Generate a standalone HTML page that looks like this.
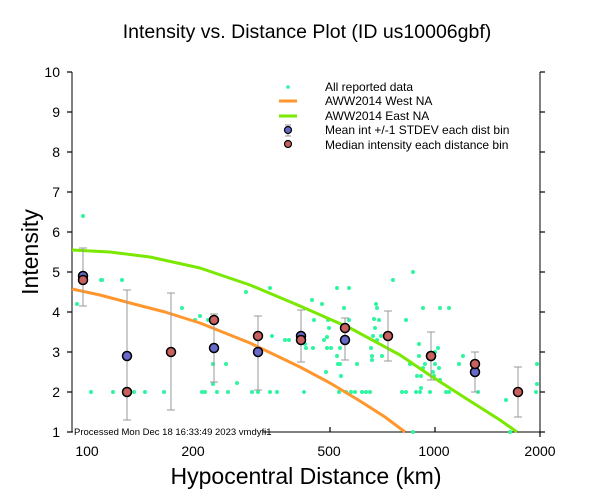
<!DOCTYPE html>
<html><head><meta charset="utf-8"><style>
body{margin:0;background:#fff}
svg{display:block;font-family:"Liberation Sans",sans-serif}
</style></head><body>
<svg width="612" height="504" viewBox="0 0 612 504" xmlns="http://www.w3.org/2000/svg">
<rect width="612" height="504" fill="#fff"/>
<text x="307" y="38" font-size="19.5" text-anchor="middle">Intensity vs. Distance Plot (ID us10006gbf)</text>
<text x="306" y="484" font-size="23" text-anchor="middle">Hypocentral Distance (km)</text>
<text transform="translate(38,252) rotate(-90)" font-size="23" text-anchor="middle">Intensity</text>
<g stroke="#000" stroke-width="1" fill="none">
<line x1="72" y1="72" x2="72" y2="432"/>
<line x1="540" y1="72" x2="540" y2="432"/>
<line x1="72" y1="432" x2="540" y2="432"/>
</g>
<g stroke="#000" stroke-width="1.2">
<line x1="72" y1="72" x2="67" y2="72"/><line x1="72" y1="112" x2="67" y2="112"/><line x1="72" y1="152" x2="67" y2="152"/><line x1="72" y1="192" x2="67" y2="192"/><line x1="72" y1="232" x2="67" y2="232"/><line x1="72" y1="272" x2="67" y2="272"/><line x1="72" y1="312" x2="67" y2="312"/><line x1="72" y1="352" x2="67" y2="352"/><line x1="72" y1="392" x2="67" y2="392"/><line x1="72" y1="432" x2="67" y2="432"/>
<line x1="540" y1="72" x2="545" y2="72"/><line x1="540" y1="112" x2="545" y2="112"/><line x1="540" y1="152" x2="545" y2="152"/><line x1="540" y1="192" x2="545" y2="192"/><line x1="540" y1="232" x2="545" y2="232"/><line x1="540" y1="272" x2="545" y2="272"/><line x1="540" y1="312" x2="545" y2="312"/><line x1="540" y1="352" x2="545" y2="352"/><line x1="540" y1="392" x2="545" y2="392"/><line x1="540" y1="432" x2="545" y2="432"/>
<line x1="330" y1="432" x2="330" y2="427"/><line x1="435" y1="432" x2="435" y2="427"/><line x1="540" y1="432" x2="540" y2="437"/>
</g>
<g font-size="14" text-anchor="end">
<text x="60" y="77">10</text><text x="60" y="117">9</text><text x="60" y="157">8</text><text x="60" y="197">7</text><text x="60" y="237">6</text><text x="60" y="277">5</text><text x="60" y="317">4</text><text x="60" y="357">3</text><text x="60" y="397">2</text><text x="60" y="437">1</text>
</g>
<g font-size="14" text-anchor="middle">
<text x="87" y="456">100</text><text x="193" y="456">200</text><text x="329" y="456">500</text><text x="434" y="456">1000</text><text x="540" y="456">2000</text>
</g>
<rect x="73" y="425" width="190" height="12" fill="#fff"/>
<text x="74" y="435" font-size="9.5">Processed Mon Dec 18 16:33:49 2023 vmdyfi1</text>
<g fill="#2ef5a0">
<circle cx="83" cy="216" r="2"/><circle cx="77" cy="304" r="2"/><circle cx="101" cy="280" r="2"/><circle cx="102" cy="280" r="2"/><circle cx="122" cy="280" r="2"/>
<circle cx="113" cy="392" r="2"/><circle cx="134" cy="392" r="2"/><circle cx="164" cy="392" r="2"/><circle cx="202" cy="392" r="2"/><circle cx="205" cy="392" r="2"/>
<circle cx="182" cy="308" r="2"/><circle cx="195" cy="320" r="2"/><circle cx="200" cy="316" r="2"/><circle cx="208" cy="320" r="2"/><circle cx="213" cy="364" r="2"/><circle cx="226" cy="364" r="2"/><circle cx="213" cy="384" r="2"/><circle cx="237" cy="383" r="2"/><circle cx="246" cy="292" r="2"/><circle cx="270" cy="288" r="2"/><circle cx="272" cy="336" r="2"/><circle cx="285" cy="340" r="2"/><circle cx="289" cy="340" r="2"/><circle cx="305" cy="344" r="2"/>
<circle cx="252" cy="392" r="2"/><circle cx="258" cy="392" r="2"/><circle cx="270" cy="392" r="2"/><circle cx="277" cy="392" r="2"/><circle cx="304" cy="392" r="2"/>
<circle cx="312" cy="300" r="2"/><circle cx="322" cy="304" r="2"/><circle cx="314" cy="320" r="2"/><circle cx="328" cy="320" r="2"/><circle cx="324" cy="340" r="2"/><circle cx="327" cy="337" r="2"/><circle cx="329" cy="328" r="2"/><circle cx="306" cy="348" r="2"/><circle cx="313" cy="348" r="2"/><circle cx="327" cy="348" r="2"/><circle cx="331" cy="348" r="2"/><circle cx="340" cy="348" r="2"/><circle cx="337" cy="356" r="2"/><circle cx="340" cy="364" r="2"/><circle cx="337" cy="288" r="2"/><circle cx="349" cy="288" r="2"/><circle cx="344" cy="308" r="2"/><circle cx="349" cy="320" r="2"/><circle cx="326" cy="372" r="2"/><circle cx="338" cy="364" r="2"/><circle cx="341" cy="376" r="2"/><circle cx="357" cy="364" r="2"/><circle cx="346" cy="392" r="2"/><circle cx="339" cy="392" r="2"/><circle cx="351" cy="392" r="2"/><circle cx="355" cy="392" r="2"/><circle cx="362" cy="392" r="2"/><circle cx="366" cy="392" r="2"/><circle cx="370" cy="392" r="2"/>
<circle cx="371" cy="348" r="2"/><circle cx="372" cy="356" r="2"/><circle cx="377" cy="340" r="2"/><circle cx="379" cy="320" r="2"/><circle cx="375" cy="328" r="2"/><circle cx="373" cy="336" r="2"/><circle cx="376" cy="304" r="2"/><circle cx="377" cy="308" r="2"/><circle cx="374" cy="319" r="2"/><circle cx="372" cy="360" r="2"/><circle cx="382" cy="356" r="2"/><circle cx="381" cy="336" r="2"/><circle cx="393" cy="280" r="2"/><circle cx="406" cy="320" r="2"/><circle cx="413" cy="272" r="2"/><circle cx="410" cy="364" r="2"/><circle cx="417" cy="376" r="2"/><circle cx="419" cy="344" r="2"/><circle cx="419" cy="356" r="2"/><circle cx="421" cy="376" r="2"/><circle cx="423" cy="308" r="2"/><circle cx="421" cy="388" r="2"/>
<circle cx="402" cy="392" r="2"/><circle cx="406" cy="392" r="2"/><circle cx="416" cy="392" r="2"/><circle cx="420" cy="392" r="2"/><circle cx="430" cy="392" r="2"/><circle cx="446" cy="392" r="2"/><circle cx="449" cy="392" r="2"/><circle cx="478" cy="392" r="2"/><circle cx="536" cy="392" r="2"/><circle cx="537" cy="384" r="2"/><circle cx="537" cy="364" r="2"/>
<circle cx="423" cy="368" r="2"/><circle cx="425" cy="364" r="2"/><circle cx="433" cy="372" r="2"/><circle cx="435" cy="352" r="2"/><circle cx="435" cy="364" r="2"/><circle cx="434" cy="376" r="2"/><circle cx="438" cy="348" r="2"/><circle cx="439" cy="368" r="2"/><circle cx="440" cy="380" r="2"/><circle cx="440" cy="308" r="2"/><circle cx="449" cy="308" r="2"/><circle cx="459" cy="364" r="2"/><circle cx="463" cy="356" r="2"/><circle cx="506" cy="400" r="2"/>
<circle cx="91" cy="392" r="2"/><circle cx="145" cy="392" r="2"/><circle cx="217" cy="392" r="2"/><circle cx="228" cy="392" r="2"/><circle cx="413" cy="432" r="2"/><circle cx="510" cy="432" r="2"/>
</g>
<polyline points="72,250 110,252 150,257 200,268 250,285 300,306 350,328 400,355 431,376 470,401 500,420 517,432" fill="none" stroke="#7ae800" stroke-width="3" stroke-linejoin="round"/>
<polyline points="72,289 100,295 130,303 165,312 200,323 250,343 300,367 330,383 360,401 385,417 405,432" fill="none" stroke="#ff962e" stroke-width="3" stroke-linejoin="round"/>
<g stroke="#999" stroke-width="1" fill="none">
<path d="M83,248V306M79,248h8M79,306h8"/>
<path d="M127,290V420M123,290h8M123,420h8"/>
<path d="M171,293V410M167,293h8M167,410h8"/>
<path d="M214,314V382M210,314h8M210,382h8"/>
<path d="M258,316V390M254,316h8M254,390h8"/>
<path d="M301,310V362M297,310h8M297,362h8"/>
<path d="M345,318V360M341,318h8M341,360h8"/>
<path d="M388,311V361M384,311h8M384,361h8"/>
<path d="M431,332V380M427,332h8M427,380h8"/>
<path d="M475,352V392M471,352h8M471,392h8"/>
<path d="M518,367V417M514,367h8M514,417h8"/>
</g>
<g fill="#6868c8" stroke="#000" stroke-width="1.5">
<circle cx="83" cy="276" r="4.5"/><circle cx="127" cy="356" r="4.5"/><circle cx="214" cy="348" r="4.5"/><circle cx="258" cy="352" r="4.5"/><circle cx="301" cy="336" r="4.5"/><circle cx="345" cy="340" r="4.5"/><circle cx="431" cy="356" r="4.5"/><circle cx="475" cy="372" r="4.5"/>
</g>
<g fill="#c86060" stroke="#000" stroke-width="1.5">
<circle cx="83" cy="280" r="4.5"/><circle cx="127" cy="392" r="4.5"/><circle cx="171" cy="352" r="4.5"/><circle cx="214" cy="320" r="4.5"/><circle cx="258" cy="336" r="4.5"/><circle cx="301" cy="340" r="4.5"/><circle cx="345" cy="328" r="4.5"/><circle cx="388" cy="336" r="4.5"/><circle cx="431" cy="356" r="4.5"/><circle cx="475" cy="364" r="4.5"/><circle cx="518" cy="392" r="4.5"/>
</g>
<circle cx="288" cy="87" r="1.8" fill="#2ef5a0"/>
<line x1="279" y1="101" x2="297" y2="101" stroke="#ff962e" stroke-width="3"/>
<line x1="279" y1="116" x2="297" y2="116" stroke="#7ae800" stroke-width="3"/>
<path d="M285,125h6M288,125V136M285,136h6" stroke="#999" fill="none"/>
<circle cx="288" cy="130" r="3.5" fill="#6868c8" stroke="#000" stroke-width="1.2"/>
<circle cx="288" cy="144" r="3.5" fill="#c86060" stroke="#000" stroke-width="1.2"/>
<g font-size="12">
<text x="325" y="91">All reported data</text>
<text x="325" y="105">AWW2014 West NA</text>
<text x="325" y="120">AWW2014 East NA</text>
<text x="325" y="134">Mean int +/-1 STDEV each dist bin</text>
<text x="325" y="149">Median intensity each distance bin</text>
</g>
</svg>
</body></html>
